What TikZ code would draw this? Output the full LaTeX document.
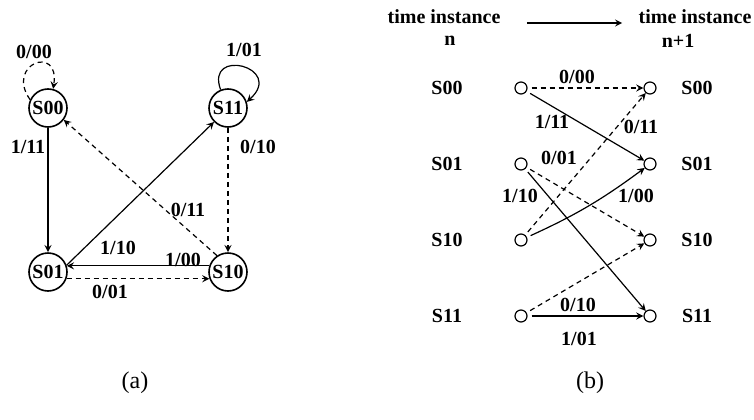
\documentclass[tikz,border=0pt]{standalone}
\usepackage{fontspec}
\setmainfont{Liberation Serif}
\usetikzlibrary{arrows}

\begin{document}
\begin{tikzpicture}[
    x=0.5pt, y=0.5pt,
    state/.style={circle, draw=black, thick, minimum size=19pt, inner sep=0pt, font=\bfseries},
    dot/.style={circle, draw=black, semithick, minimum size=6pt, inner sep=0pt},
    lbl/.style={font=\bfseries, inner sep=0pt},
    arrow/.style={semithick,->,>=stealth},
    darrow/.style={semithick,dash pattern=on 2.5pt off 2pt,->,>=stealth},
    trel/.style={shorten <=2pt}
]
\useasboundingbox (0,0) rectangle (754,419);

% (a) state diagram
\node[state] (s00) at (48,311) {S00};
\node[state] (s11) at (228,311) {S11};
\node[state] (s01) at (48,147) {S01};
\node[state] (s10) at (228,147) {S10};

\draw[darrow] (s00.155) .. controls (5,355) and (60,375) .. (s00.75);
\draw[arrow] (s11.112) .. controls (205,372) and (285,352) .. (s11.18);
\draw[arrow] (s00) -- (s01);
\draw[darrow] (s11) -- (s10);
\draw[arrow] (s01.20) -- (s11.225);
\draw[darrow] (s10.124) -- (s00.-37);
\draw[arrow] (s10.162) -- (s01.18);
\draw[darrow] (s01.-20) -- (s10.200);

% transition labels (input/output)
\node[lbl] (l0000) at (34,367) {0/00};
\node[lbl] (l1101) at (244,369) {1/01};
\node[lbl] (l0011) at (28,272) {1/11};
\node[lbl] (l1110) at (258,272) {0/10};
\node[lbl] (l0111) at (118,171) {1/10};
\node[lbl] (l1000) at (188,209) {0/11};
\node[lbl] (l1001) at (183,159) {1/00};
\node[lbl] (l0110) at (110,127) {0/01};

% (b) trellis
\node[lbl] (hdl) at (444,402) {time instance};
\node[lbl] (hdln) at (450,378) {n};
\node[lbl] (hdr) at (695,402) {time instance};
\node[lbl] (hdrn) at (678,378) {n+1};
\draw[arrow, shorten <=13pt, shorten >=8pt] ([yshift=-3pt]hdl.east) -- ([yshift=-3pt]hdr.west);

\foreach \s/\y in {00/331,01/255,10/179,11/103} {
  \node[dot] (a\s) at (521,\y) {};
  \node[dot] (b\s) at (650,\y) {};
  \node[lbl] (an\s) at (447,\y) {S\s};
  \node[lbl] (bn\s) at (697,\y) {S\s};
}

\draw[darrow, trel] (a00) -- (b00);
\draw[arrow, trel] (a00) -- (b01);
\draw[darrow, trel] (a01) -- (b10);
\draw[arrow, trel] (a01) -- (b11);
\draw[darrow, trel] (a10) -- (b00);
\draw[arrow, trel] (a10) to[bend right=6] (b01);
\draw[darrow, trel] (a11) -- (b10);
\draw[arrow, trel] (a11) -- (b11);

\node[lbl] (t0000) at (577,342) {0/00};
\node[lbl] (t0011) at (552,297) {1/11};
\node[lbl] (t0110) at (559,261) {0/01};
\node[lbl] (t0111) at (520,223) {1/10};
\node[lbl] (t1000) at (641,292) {0/11};
\node[lbl] (t1001) at (636,223) {1/00};
\node[lbl] (t1110) at (578,114) {0/10};
\node[lbl] (t1101) at (579,80) {1/01};

% captions
\node[font=\large] (capa) at (135,36) {(a)};
\node[font=\large] (capb) at (590,36) {(b)};

\end{tikzpicture}
\end{document}
